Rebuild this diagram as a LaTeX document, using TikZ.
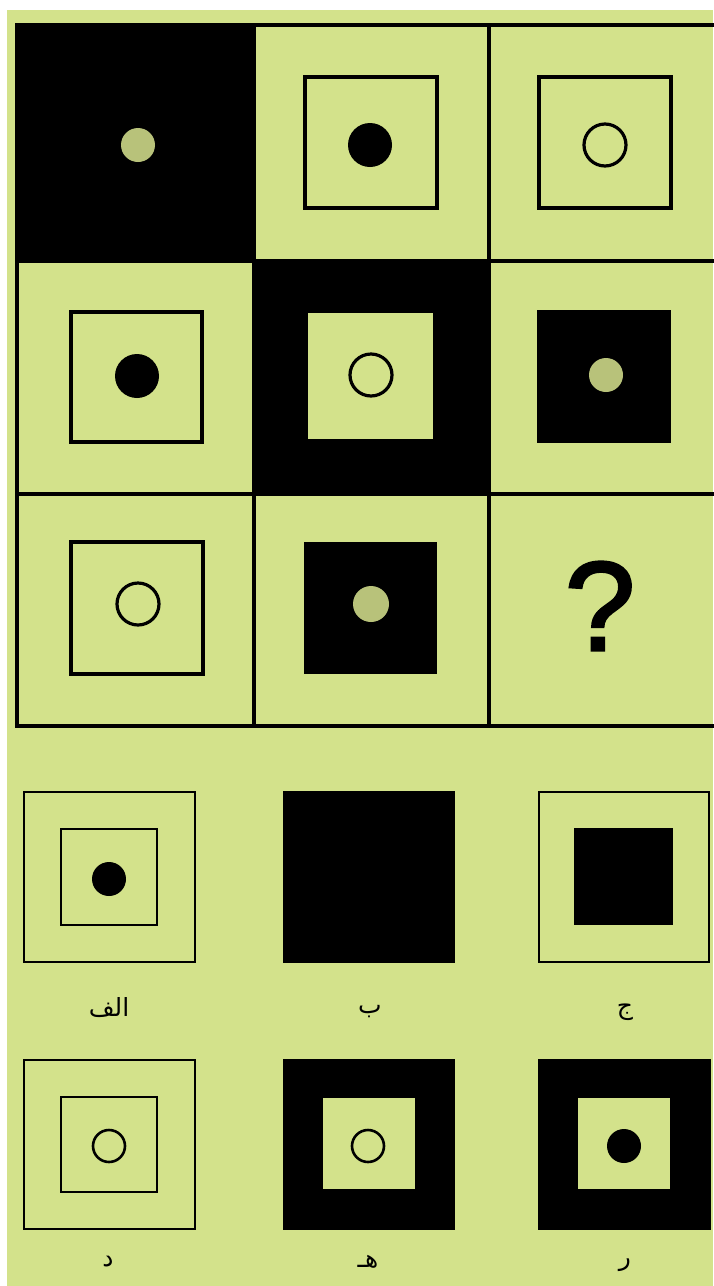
\documentclass[tikz,border=0pt]{standalone}
\usepackage{fontspec}
\setmainfont{Liberation Sans}
\newfontfamily\arabicfont[Script=Arabic]{DejaVu Sans}
\newfontfamily\askfont[FakeBold=2]{Liberation Sans}
\TeXXeTstate=1
\definecolor{paper}{RGB}{211,226,139}
\definecolor{speckle}{RGB}{184,194,122}

\begin{document}
\begin{tikzpicture}[x=1pt, y=-1pt, line width=3.2pt,
  thin frame/.style={line width=2.6pt},
  ring/.style={draw=black, line width=3.2pt},
  lbl/.style={font=\arabicfont\fontsize{25}{25}\selectfont, inner sep=0pt}]
  \useasboundingbox (0,0) rectangle (713,1286);
  \fill[paper] (7,10) rectangle (713,1286);

  % Matrix: black cells and grid
  \fill (17,25) rectangle (254,261);
  \fill (254,261) rectangle (489,494);
  \begin{scope}[line cap=rect]
    \draw (17,25) -- (713,25);
    \draw (17,261) -- (713,261);
    \draw (17,494) -- (713,494);
    \draw (17,726) -- (713,726);
    \draw (17,25) -- (17,726);
    \draw (254,25) -- (254,726);
    \draw (489,25) -- (489,726);
  \end{scope}

  % Row 1
  \fill[speckle] (138,145) circle (17);
  \draw (305,77) rectangle (437,208);
  \fill (370,145) circle (22);
  \draw (539,77) rectangle (671,208);
  \draw[ring] (605,145) circle (21);

  % Row 2
  \draw (71,312) rectangle (202,442);
  \fill (137,376) circle (22);
  \fill[paper] (308,313) rectangle (433,439);
  \draw[ring] (371,375) circle (21);
  \fill (537,310) rectangle (671,443);
  \fill[speckle] (606,375) circle (17);

  % Row 3 with the missing cell
  \draw (71,542) rectangle (203,674);
  \draw[ring] (138,604) circle (21);
  \fill (304,542) rectangle (437,674);
  \fill[speckle] (371,604) circle (18);
  \node[inner sep=0pt, font=\askfont\fontsize{127}{127}\selectfont] (ask) at (600,606) {?};

  % Answers, first row
  \draw[thin frame] (24,792) rectangle (195,962);
  \draw[thin frame] (61,829) rectangle (157,925);
  \fill (109,879) circle (17);
  \fill (283,791) rectangle (455,963);
  \draw[thin frame] (539,792) rectangle (709,962);
  \fill (574,828) rectangle (673,925);
  \node[lbl] (alef) at (109,1008) {\beginR الف\endR};
  \node[lbl] (be) at (370,1012) {\beginR ب\endR};
  \node[lbl] (jim) at (625,1012) {\beginR ج\endR};

  % Answers, second row
  \draw[thin frame] (24,1060) rectangle (195,1229);
  \draw[thin frame] (61,1097) rectangle (157,1192);
  \draw[ring, line width=2.6pt] (109,1146) circle (16);
  \fill (283,1059) rectangle (455,1230);
  \fill[paper] (323,1098) rectangle (415,1189);
  \draw[ring, line width=2.6pt] (368,1146) circle (16);
  \fill (538,1059) rectangle (711,1230);
  \fill[paper] (578,1098) rectangle (670,1189);
  \fill (624,1146) circle (17);
  \node[lbl] (dal) at (108,1262) {\beginR د\endR};
  \node[lbl] (he) at (368,1262) {\beginR هـ\endR};
  \node[lbl] (re) at (625,1265) {\beginR ر\endR};
\end{tikzpicture}
\end{document}
